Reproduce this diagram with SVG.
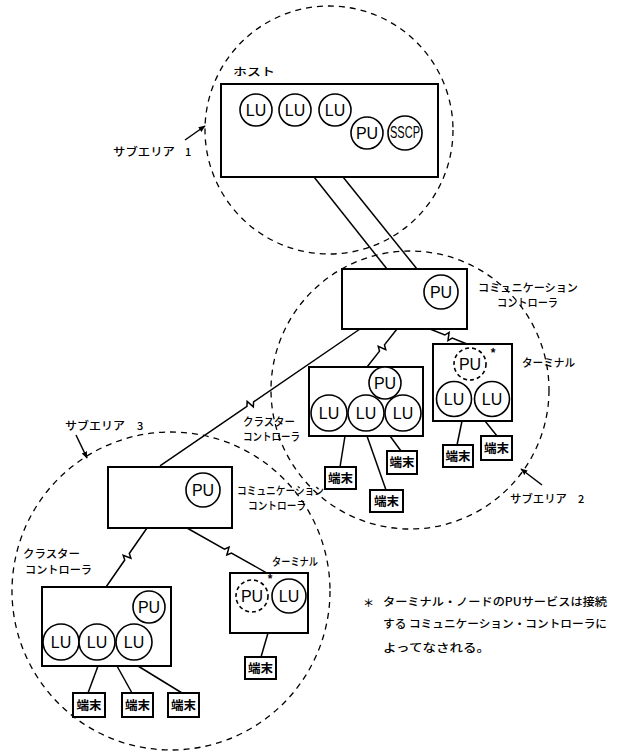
<svg xmlns="http://www.w3.org/2000/svg" width="618" height="752" viewBox="0 0 618 752">
<defs>
<marker id="arr" viewBox="0 0 10 10" refX="9" refY="5" markerWidth="7" markerHeight="7" orient="auto" markerUnits="userSpaceOnUse">
<path d="M0,1 L10,5 L0,9 Z" fill="#000"/>
</marker>
<style>
.area{fill:none;stroke:#000;stroke-width:1.3;stroke-dasharray:6 5}
.box{fill:#fff;stroke:#000;stroke-width:2}
.c{fill:#fff;stroke:#000;stroke-width:1.6}
.cd{fill:#fff;stroke:#000;stroke-width:1.6;stroke-dasharray:4 3}
.ln{fill:none;stroke:#000;stroke-width:1.5}
.ct{font-family:"Liberation Sans","Noto Sans",sans-serif;font-size:16px;text-anchor:middle;fill:#000}
.jp{font-family:"Noto Sans CJK JP","Noto Sans",sans-serif;font-size:11px;font-weight:500;fill:#000}
.tb{fill:#fff;stroke:#000;stroke-width:2}
.tt{font-family:"Noto Sans CJK JP",sans-serif;font-size:12.5px;font-weight:bold;text-anchor:middle;fill:#000}
.ast{font-family:"Liberation Sans",sans-serif;font-size:12px;font-weight:bold;text-anchor:middle;fill:#000}
</style>
</defs>
<rect width="618" height="752" fill="#fff"/>

<g id="subareas">
<circle class="area" cx="329" cy="130" r="124"/>
<circle class="area" cx="410" cy="390" r="139"/>
<circle class="area" cx="171" cy="591" r="159"/>
</g>

<g id="connectors">
<line class="ln" x1="314" y1="177" x2="387" y2="269"/>
<line class="ln" x1="343" y1="177" x2="417" y2="269"/>
<g transform="translate(397,329) rotate(128.3)"><path class="ln" d="M0,0 H20.2 L23.2,-4 L25.2,4 L28.2,0 H48.4"/></g>
<g transform="translate(430,329) rotate(22.1)"><path class="ln" d="M0,0 H16 L19,-4 L21,4 L24,0 H39.9"/></g>
<g transform="translate(360,329) rotate(145.6)"><path class="ln" d="M0,0 H129 L132,-4 L134,4 L137,0 H242.4"/></g>
<g transform="translate(147,528) rotate(124.8)"><path class="ln" d="M0,0 H31 L34,-4 L36,4 L39,0 H71.8"/></g>
<g transform="translate(187,528) rotate(29.4)"><path class="ln" d="M0,0 H43 L46,-4 L48,4 L51,0 H91.8"/></g>
<line class="ln" x1="345" y1="436" x2="340" y2="467"/>
<line class="ln" x1="367" y1="436" x2="386" y2="490"/>
<line class="ln" x1="390" y1="436" x2="401" y2="451"/>
<line class="ln" x1="462" y1="421" x2="457" y2="445"/>
<line class="ln" x1="485" y1="421" x2="497" y2="436"/>
<line class="ln" x1="268" y1="633" x2="261" y2="657"/>
<line class="ln" x1="98" y1="666" x2="88" y2="693"/>
<line class="ln" x1="117" y1="666" x2="132" y2="693"/>
<line class="ln" x1="138" y1="666" x2="182" y2="693"/>
<line class="ln" x1="185" y1="140" x2="205" y2="126" marker-end="url(#arr)"/>
<line class="ln" x1="542" y1="485" x2="521" y2="469" marker-end="url(#arr)"/>
<line class="ln" x1="76" y1="435" x2="87" y2="458" marker-end="url(#arr)"/>
</g>

<g id="host">
<rect class="box" x="221" y="84" width="217" height="93"/>
<text class="jp" x="233" y="76" font-size="13" textLength="42" lengthAdjust="spacingAndGlyphs">ホスト</text>
<circle class="c" cx="256" cy="110" r="16"/><text class="ct" x="256" y="116" font-size="15">LU</text>
<circle class="c" cx="295" cy="110" r="16"/><text class="ct" x="295" y="116" font-size="15">LU</text>
<circle class="c" cx="335" cy="110" r="16"/><text class="ct" x="335" y="116" font-size="15">LU</text>
<circle class="c" cx="367" cy="133" r="16"/><text class="ct" x="367" y="139" font-size="15">PU</text>
<circle class="c" cx="405" cy="133" r="17"/><text class="ct" x="405" y="138" font-size="13" textLength="30" lengthAdjust="spacingAndGlyphs">SSCP</text>
</g>

<g id="comm1">
<rect class="box" x="342" y="269" width="125" height="60"/>
<circle class="c" cx="441" cy="292" r="17"/><text class="ct" x="441" y="298">PU</text>
<text class="jp" x="478" y="292" textLength="100" lengthAdjust="spacingAndGlyphs">コミュニケーション</text>
<text class="jp" x="497" y="307" textLength="61" lengthAdjust="spacingAndGlyphs">コントローラ</text>
</g>

<g id="cluster1">
<rect class="box" x="309" y="367" width="114" height="69"/>
<circle class="c" cx="385" cy="383" r="16"/><text class="ct" x="385" y="389">PU</text>
<circle class="c" cx="329" cy="413" r="18"/><text class="ct" x="329" y="419">LU</text>
<circle class="c" cx="366" cy="413" r="18"/><text class="ct" x="366" y="419">LU</text>
<circle class="c" cx="403" cy="413" r="18"/><text class="ct" x="403" y="419">LU</text>
<text class="jp" x="243" y="426" textLength="52" lengthAdjust="spacingAndGlyphs">クラスター</text>
<text class="jp" x="243" y="441" textLength="57" lengthAdjust="spacingAndGlyphs">コントローラ</text>
</g>

<g id="terminal1">
<rect class="box" x="433" y="344" width="79" height="77"/>
<circle class="cd" cx="470" cy="364" r="16"/><text class="ct" x="470" y="370">PU</text>
<text class="ast" x="493" y="357">*</text>
<circle class="c" cx="454" cy="399" r="17.5"/><text class="ct" x="454" y="405">LU</text>
<circle class="c" cx="492" cy="399" r="17.5"/><text class="ct" x="492" y="405">LU</text>
<text class="jp" x="522" y="367" textLength="53" lengthAdjust="spacingAndGlyphs">ターミナル</text>
</g>

<g id="t1a"><rect class="tb" x="325" y="467" width="31" height="22"/><text class="tt" x="340.5" y="483">端末</text></g>
<g id="t1b"><rect class="tb" x="370" y="490" width="33" height="22"/><text class="tt" x="386.5" y="506">端末</text></g>
<g id="t1c"><rect class="tb" x="387" y="451" width="30" height="23"/><text class="tt" x="402" y="467">端末</text></g>
<g id="t2a"><rect class="tb" x="443" y="445" width="30" height="22"/><text class="tt" x="458" y="461">端末</text></g>
<g id="t2b"><rect class="tb" x="481" y="436" width="31" height="24"/><text class="tt" x="496.5" y="453">端末</text></g>

<g id="comm2">
<rect class="box" x="108" y="467" width="124" height="61"/>
<circle class="c" cx="203" cy="490" r="17"/><text class="ct" x="203" y="496">PU</text>
<text class="jp" x="237" y="495" textLength="87" lengthAdjust="spacingAndGlyphs">コミュニケーション</text>
<text class="jp" x="248" y="510" textLength="58" lengthAdjust="spacingAndGlyphs">コントローラ</text>
</g>

<g id="cluster2">
<rect class="box" x="42" y="587" width="129" height="79"/>
<circle class="c" cx="149" cy="607" r="16"/><text class="ct" x="149" y="613">PU</text>
<circle class="c" cx="61" cy="642" r="18"/><text class="ct" x="61" y="648">LU</text>
<circle class="c" cx="97" cy="642" r="18"/><text class="ct" x="97" y="648">LU</text>
<circle class="c" cx="134" cy="642" r="18"/><text class="ct" x="134" y="648">LU</text>
<text class="jp" x="23" y="558" textLength="57" lengthAdjust="spacingAndGlyphs">クラスター</text>
<text class="jp" x="25" y="574" textLength="67" lengthAdjust="spacingAndGlyphs">コントローラ</text>
</g>

<g id="terminal2">
<rect class="box" x="230" y="573" width="78" height="60"/>
<circle class="cd" cx="252" cy="596" r="16"/><text class="ct" x="252" y="602">PU</text>
<text class="ast" x="270" y="583">*</text>
<circle class="c" cx="289" cy="596" r="17"/><text class="ct" x="289" y="602">LU</text>
<text class="jp" x="272" y="566" textLength="46" lengthAdjust="spacingAndGlyphs">ターミナル</text>
</g>

<g id="t3a"><rect class="tb" x="245" y="657" width="31" height="22"/><text class="tt" x="260.5" y="673">端末</text></g>
<g id="t4a"><rect class="tb" x="73" y="693" width="32" height="24"/><text class="tt" x="89" y="710">端末</text></g>
<g id="t4b"><rect class="tb" x="122" y="693" width="31" height="24"/><text class="tt" x="137.5" y="710">端末</text></g>
<g id="t4c"><rect class="tb" x="168" y="693" width="31" height="24"/><text class="tt" x="183.5" y="710">端末</text></g>

<g id="labels">
<text class="jp" x="113" y="156" font-size="14" textLength="62" lengthAdjust="spacingAndGlyphs">サブエリア</text>
<text class="jp" x="185" y="156" font-size="14">1</text>
<text class="jp" x="510" y="503" font-size="14" textLength="57" lengthAdjust="spacingAndGlyphs">サブエリア</text>
<text class="jp" x="578" y="503" font-size="14">2</text>
<text class="jp" x="65" y="430" font-size="14" textLength="60" lengthAdjust="spacingAndGlyphs">サブエリア</text>
<text class="jp" x="137" y="430" font-size="14">3</text>
</g>

<g id="note">
<text class="jp" x="363" y="607" font-size="13" font-weight="bold">＊</text>
<text class="jp" x="383" y="606" font-size="12.5" textLength="224" lengthAdjust="spacingAndGlyphs">ターミナル・ノードのPUサービスは接続</text>
<text class="jp" x="383" y="628" font-size="12.5" textLength="224" lengthAdjust="spacingAndGlyphs">する コミュニケーション・コントローラに</text>
<text class="jp" x="383" y="652" font-size="12.5" textLength="107" lengthAdjust="spacingAndGlyphs">よってなされる。</text>
</g>
</svg>
